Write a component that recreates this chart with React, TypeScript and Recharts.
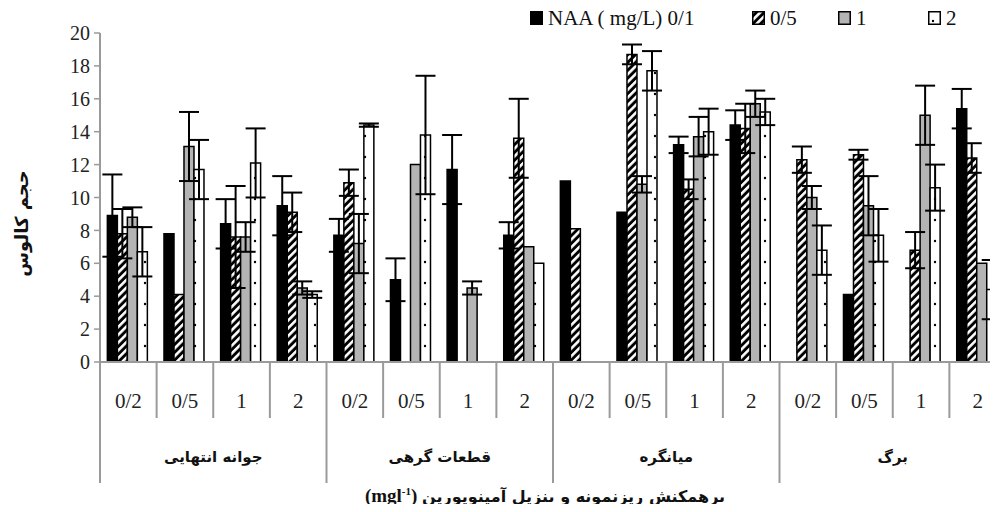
import { Bar, BarChart, ErrorBar, Legend, XAxis, YAxis } from "recharts";

const CATEGORIES = ["0/2", "0/5", "1", "2"];
const EXPLANTS = ["جوانه انتهایی", "قطعات گرهی", "میانگره", "برگ"];
const SERIES_LABELS = ["NAA ( mg/L) 0/1", "0/5", "1", "2"];
const Y_TICKS = [0, 2, 4, 6, 8, 10, 12, 14, 16, 18, 20];

// callus volume per BAP level, grouped by explant
const naa01 = [8.9, 7.8, 8.4, 9.5, 7.7, 5.0, 11.7, 7.7, 11.0, 9.1, 13.2, 14.4, null, 4.1, null, 15.4];
const naa01Err = [2.5, 0, 1.5, 1.8, 1.0, 1.3, 2.1, 0.8, 0, 0, 0.5, 0.9, 0, 0, 0, 1.2];
const naa05 = [7.8, 4.1, 7.6, 9.1, 10.9, null, null, 13.6, 8.1, 18.7, 10.5, 14.2, 12.3, 12.6, 6.8, 12.4];
const naa05Err = [1.5, 0, 3.1, 1.2, 0.8, 0, 0, 2.4, 0, 0.6, 0.6, 1.5, 0.8, 0.3, 1.1, 0.9];
const naa1 = [8.8, 13.1, 7.6, 4.5, 7.2, 12.0, 4.5, 7.0, null, 10.8, 13.7, 15.7, 10.0, 9.5, 15.0, 6.0];
const naa1Err = [0.6, 2.1, 0.9, 0.4, 1.8, 0, 0.4, 0, 0, 0.5, 1.2, 0.8, 0.7, 1.8, 1.8, 0];
const naa2 = [6.7, 11.7, 12.1, 4.1, 14.4, 13.8, null, 6.0, null, 17.7, 14.0, 15.2, 6.8, 7.7, 10.6, 4.4];
const naa2Err = [1.5, 1.8, 2.1, 0.2, 0.1, 3.6, 0, 0, 0, 1.2, 1.4, 0.8, 1.5, 1.6, 1.4, 1.8];

const table = EXPLANTS.flatMap((explant, g) =>
  CATEGORIES.map((bap, k) => {
    const i = g * 4 + k;
    return {
      id: `${g}-${k}`,
      bap,
      explant,
      first: k === 0,
      n01: naa01[i], e01: naa01Err[i],
      n05: naa05[i], e05: naa05Err[i],
      n1: naa1[i], e1: naa1Err[i],
      n2: naa2[i], e2: naa2Err[i],
    };
  })
);

const W = 1010;
const H = 512;
const M = { top: 33, right: 4, left: 0, bottom: 0 };
const Y_W = 100;
const HALF = (W - M.left - M.right - Y_W) / table.length / 2;

const SERIF = "Liberation Serif, DejaVu Serif, serif";
const ARABIC = "DejaVu Sans, sans-serif";
const GRID = "#9a9a9a";
const FILLS = ["#000", "url(#hatch)", "#b4b4b4", "url(#dots)"];

function BapTick(props: any) {
  const { x, y, payload } = props;
  const idx = payload?.index ?? props.index;
  const row = table[idx];
  if (!row) return null;
  const half = payload?.offset || HALF;
  const last = idx === table.length - 1;
  return (
    <g>
      <text x={x} y={y + 46} textAnchor="middle" style={{ fontFamily: SERIF }} fontSize={21} fill="#222">{row.bap}</text>
      <line x1={x - half} x2={x - half} y1={y} y2={y + (row.first ? 121 : 56)} stroke={GRID} strokeWidth={2} />
      {last && <line x1={x + half} x2={x + half} y1={y} y2={y + 121} stroke={GRID} strokeWidth={2} />}
      {row.first && (
        <text x={x + 3 * half} y={y + 100} textAnchor="middle" style={{ fontFamily: ARABIC }} fontWeight="bold" fontSize={15} fill="#111">{row.explant}</text>
      )}
    </g>
  );
}

function Swatch({ fill }: { fill: string }) {
  return (
    <svg width={13} height={14} style={{ display: "block" }}>
      <rect x={0.75} y={0.75} width={11.5} height={12.5} fill={fill} stroke="#000" strokeWidth={1.5} />
    </svg>
  );
}

const LEGEND_X = [530, 752, 838, 928];

function LegendBlock() {
  return (
    <div style={{ position: "relative", height: 0 }}>
      {SERIES_LABELS.map((s, i) => (
        <div key={s} style={{ position: "absolute", left: LEGEND_X[i], top: 6, display: "flex", alignItems: "center", gap: 5, whiteSpace: "nowrap", fontFamily: SERIF, fontSize: 21, color: "#111", lineHeight: "24px" }}>
          <Swatch fill={FILLS[i]} />
          <span>{s}</span>
        </div>
      ))}
    </div>
  );
}

function YTitle(p: any) {
  const vb = p.viewBox || { y: 33, height: 329 };
  const cy = vb.y + vb.height / 2 + 26;
  return (
    <text x={21} y={cy} transform={`rotate(-90 21 ${cy})`} textAnchor="middle" dominantBaseline="central" style={{ fontFamily: ARABIC }} fontWeight="bold" fontSize={18} fill="#111">
      حجم کالوس
    </text>
  );
}

function XTitle(p: any) {
  const vb = p.viewBox || { x: 100, width: 906, y: 362 };
  const cx = 545;
  return (
    <text x={cx} y={vb.y + 140} textAnchor="middle" style={{ fontFamily: ARABIC }} fontWeight="bold" fontSize={16} fill="#111">
      <tspan style={{ fontFamily: SERIF }} fontSize={19}>(mgl</tspan>
      <tspan style={{ fontFamily: SERIF }} fontSize={11} dy={-7}>-1</tspan>
      <tspan style={{ fontFamily: SERIF }} fontSize={19} dy={7}>) </tspan>
      <tspan>برهمکنش ریزنمونه و بنزیل آمینوپورین</tspan>
    </text>
  );
}

const SERIES = [
  { key: "n01", err: "e01" },
  { key: "n05", err: "e05" },
  { key: "n1", err: "e1" },
  { key: "n2", err: "e2" },
];

export default function App() {
  return (
    <div style={{ margin: -8, width: 998, height: H, overflow: "hidden", background: "#fff" }}>
      <BarChart width={W} height={H} data={table} margin={M} barCategoryGap="13%" barGap={0}>
        <defs>
          <pattern id="hatch" patternUnits="userSpaceOnUse" width={5.5} height={5.5} patternTransform="rotate(45)">
            <rect width={5.5} height={5.5} fill="#000" />
            <rect x={0} width={2.6} height={5.5} fill="#fff" />
          </pattern>
          <pattern id="dots" patternUnits="userSpaceOnUse" width={10} height={21}>
            <rect width={10} height={21} fill="#fff" />
            <circle cx={5} cy={10} r={1.2} fill="#000" />
          </pattern>
        </defs>
        <Legend verticalAlign="top" wrapperStyle={{ top: 0, left: 0, width: W, height: 0 }} content={LegendBlock} />
        <XAxis dataKey="id" interval={0} tickLine={false} tickSize={0} tickMargin={0} height={150} axisLine={{ stroke: GRID, strokeWidth: 2 }} tick={BapTick} label={XTitle} />
        <YAxis domain={[0, 20]} ticks={Y_TICKS} interval={0} width={Y_W} axisLine={{ stroke: GRID, strokeWidth: 2 }} tickLine={{ stroke: GRID, strokeWidth: 1.5 }} tickSize={6} tickMargin={4} tick={{ style: { fontFamily: SERIF }, fontSize: 20, fill: "#222" }} label={YTitle} />
        {SERIES.map((s, i) => (
          <Bar key={s.key} dataKey={s.key} fill={FILLS[i]} stroke="#000" strokeWidth={1.5} isAnimationActive={false}>
            <ErrorBar dataKey={s.err} direction="y" width={10} stroke="#000" strokeWidth={2} />
          </Bar>
        ))}
      </BarChart>
    </div>
  );
}
